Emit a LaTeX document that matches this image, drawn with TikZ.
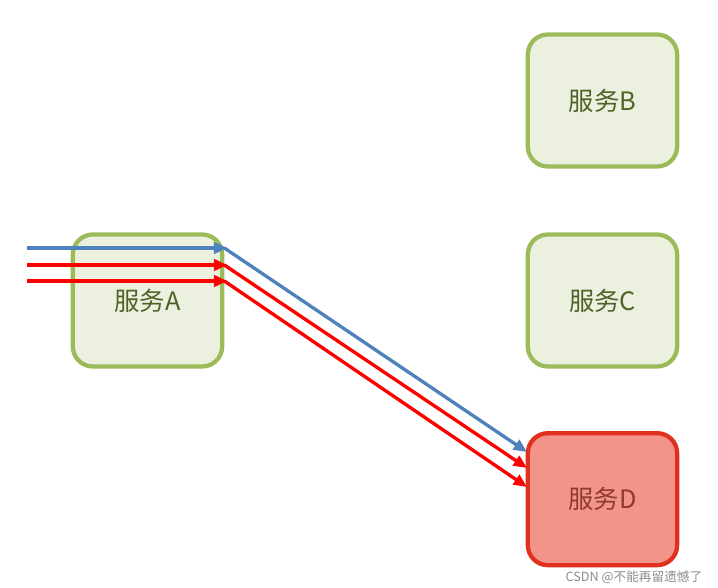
\documentclass[tikz,border=0pt]{standalone}
\usepackage{fontspec}
\setmainfont{Noto Sans CJK SC}
\usetikzlibrary{positioning, arrows.meta, calc}
\definecolor{svcline}{HTML}{9BBB59}
\definecolor{svcfill}{HTML}{EBF1DE}
\definecolor{svctext}{HTML}{4F6228}
\definecolor{badline}{HTML}{E0301E}
\definecolor{badfill}{HTML}{F2948A}
\definecolor{badtext}{HTML}{8E3A2C}
\definecolor{callblue}{HTML}{4F81BD}
\definecolor{callred}{HTML}{FF0000}

\begin{document}
\begin{tikzpicture}[x=0.75pt,y=-0.75pt,node distance=150pt,on grid,
    svc/.style={draw=svcline, fill=svcfill, text=svctext, line width=3.2pt,
        rounded corners=15pt, minimum width=112pt, minimum height=99pt,
        font=\fontsize{19}{22}\selectfont},
    down/.style={svc, draw=badline, fill=badfill, text=badtext},
    call/.style={line width=2.5pt, -{Triangle[length=10pt,width=8.5pt]}}]
    \useasboundingbox (0,0) rectangle (718,588);
    \node[svc] (B) at (602.5,100.5) {服务B};
    \node[svc] (C) [below=of B] {服务C};
    \node[down] (D) [below=149pt of C] {服务D};
    \node[svc] (A) [left=341.25pt of C] {服务A};

    % incoming calls
    \coordinate (in1) at (27,248);
    \coordinate (in2) at (27,265);
    \coordinate (in3) at (27,281);
    \coordinate (d1) at (527,452);
    \coordinate (d2) at (527,468);
    \coordinate (d3) at (527,487);

    \draw[call, callblue] (in1) -- ($(A.east |- in1)+(3,0)$);
    \draw[call, callred] (in2) -- ($(A.east |- in2)+(3,0)$);
    \draw[call, callred] (in3) -- ($(A.east |- in3)+(3,0)$);
    \draw[call, callblue] (A.east |- in1) -- (d1);
    \draw[call, callred] (A.east |- in2) -- (d2);
    \draw[call, callred] (A.east |- in3) -- (d3);

    \node[text=black!45, font=\fontsize{9.5}{11}\selectfont, anchor=east] (mark) at (707,577) {CSDN @不能再留遗憾了};
\end{tikzpicture}
\end{document}
